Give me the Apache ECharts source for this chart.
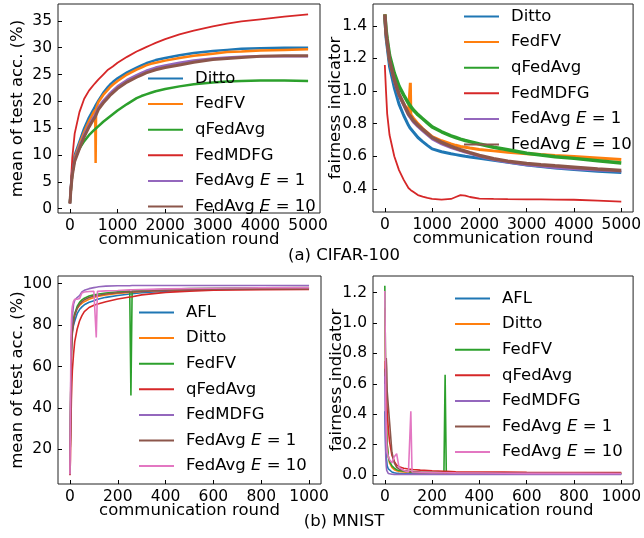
<!DOCTYPE html>
<html>
<head>
<meta charset="utf-8">
<script src="https://cdn.jsdelivr.net/npm/echarts@6/dist/echarts.min.js"></script>
<style>
* { margin: 0; padding: 0; }
body { background: #fff; }
#chart { width: 644px; height: 538px; }
</style>
</head>
<body>
<div id="chart"></div>
<script>
// ---- CIFAR-100 (5000 rounds) ----
const cifarRounds = [0, 25, 50, 100, 200, 300, 400, 500, 530, 540, 550, 600, 700, 800, 820, 830, 840, 900, 1000,
  1200, 1400, 1500, 1600, 1700, 1800, 2000, 2300, 2600, 3000, 3300, 3600, 4000, 4500, 5000]
const cifarNames = ['Ditto', 'FedFV', 'qFedAvg', 'FedMDFG', 'FedAvg E=1', 'FedAvg E=10']
const cifarColors = ['#1f77b4', '#ff7f0e', '#2ca02c', '#d62728', '#9467bd', '#8c564b']

// mean of test acc (%)
const cifarAccDitto = [1.0, 4.5, 7.0, 10.0, 12.5, 15.0, 17.0, 18.6, 19.1, 19.3, 19.4, 20.2, 21.6, 22.7, 22.9, 23.0, 23.1, 23.6, 24.3, 25.4, 26.3, 26.7, 27.1, 27.4, 27.7, 28.1, 28.6, 29.0, 29.4, 29.6, 29.8, 29.9, 30.0, 30.0]
const cifarAccFedFV = [1.0, 4.0, 6.5, 9.5, 12.0, 14.3, 16.3, 18.0, 18.4, 8.5, 18.7, 19.9, 21.2, 22.2, 22.4, 22.5, 22.6, 23.1, 23.8, 25.0, 25.9, 26.3, 26.7, 27.0, 27.2, 27.6, 28.1, 28.5, 28.9, 29.2, 29.3, 29.5, 29.6, 29.7]
const cifarAccQFedAvg = [1.0, 4.0, 6.5, 9.2, 11.2, 12.6, 13.7, 14.6, 14.8, 14.9, 15.0, 15.4, 16.2, 16.9, 17.0, 17.1, 17.2, 17.6, 18.3, 19.5, 20.6, 21.0, 21.3, 21.6, 21.9, 22.3, 22.8, 23.2, 23.5, 23.7, 23.8, 23.9, 23.9, 23.8]
const cifarAccFedMDFG = [1.0, 5.5, 9.5, 14.0, 18.0, 20.5, 22.0, 23.1, 23.4, 23.5, 23.6, 24.1, 25.0, 25.9, 26.0, 26.1, 26.2, 26.5, 27.2, 28.3, 29.3, 29.7, 30.1, 30.5, 30.9, 31.6, 32.5, 33.2, 34.0, 34.5, 34.9, 35.3, 35.8, 36.2]
const cifarAccE1 = [1.0, 4.2, 6.5, 9.2, 11.6, 13.8, 15.6, 17.1, 17.5, 17.6, 17.7, 18.9, 20.1, 21.1, 21.3, 21.4, 21.5, 22.0, 22.8, 24.0, 24.9, 25.3, 25.7, 26.0, 26.3, 26.7, 27.2, 27.6, 28.0, 28.2, 28.3, 28.4, 28.4, 28.4]
const cifarAccE10 = [1.0, 4.0, 6.2, 8.8, 11.2, 13.4, 15.2, 16.7, 17.1, 17.2, 17.3, 18.5, 19.7, 20.7, 20.9, 21.0, 21.1, 21.6, 22.4, 23.6, 24.5, 24.9, 25.3, 25.6, 25.9, 26.3, 26.8, 27.3, 27.8, 28.0, 28.2, 28.4, 28.5, 28.5]

// fairness indicator
const cifarFairDitto = [1.45, 1.33, 1.27, 1.15, 1.02, 0.92, 0.85, 0.79, 0.775, 0.77, 0.765, 0.75, 0.715, 0.69, 0.685, 0.683, 0.68, 0.667, 0.645, 0.628, 0.615, 0.61, 0.605, 0.60, 0.596, 0.588, 0.575, 0.563, 0.547, 0.537, 0.528, 0.518, 0.508, 0.50]
const cifarFairFedFV = [1.47, 1.36, 1.30, 1.19, 1.07, 0.98, 0.92, 0.87, 0.86, 1.05, 0.855, 0.835, 0.80, 0.77, 0.765, 0.78, 0.758, 0.745, 0.72, 0.695, 0.675, 0.667, 0.66, 0.655, 0.65, 0.642, 0.633, 0.625, 0.616, 0.61, 0.605, 0.599, 0.59, 0.58]
const cifarFairQFedAvg = [1.47, 1.38, 1.32, 1.22, 1.11, 1.03, 0.975, 0.925, 0.912, 0.908, 0.905, 0.885, 0.855, 0.83, 0.825, 0.823, 0.82, 0.805, 0.78, 0.75, 0.725, 0.715, 0.705, 0.697, 0.69, 0.675, 0.655, 0.64, 0.618, 0.607, 0.597, 0.587, 0.573, 0.558]
const cifarFairFedMDFG = [1.16, 1.0, 0.86, 0.73, 0.60, 0.515, 0.455, 0.405, 0.397, 0.394, 0.392, 0.382, 0.362, 0.352, 0.35, 0.349, 0.348, 0.344, 0.339, 0.334, 0.338, 0.35, 0.362, 0.358, 0.35, 0.34, 0.338, 0.337, 0.336, 0.335, 0.334, 0.333, 0.328, 0.322]
const cifarFairE1 = [1.46, 1.35, 1.29, 1.18, 1.06, 0.97, 0.91, 0.85, 0.84, 0.835, 0.83, 0.81, 0.78, 0.755, 0.75, 0.748, 0.745, 0.73, 0.705, 0.675, 0.652, 0.642, 0.633, 0.624, 0.616, 0.598, 0.578, 0.563, 0.547, 0.538, 0.53, 0.522, 0.514, 0.508]
const cifarFairE10 = [1.47, 1.36, 1.30, 1.19, 1.07, 0.98, 0.92, 0.86, 0.85, 0.845, 0.84, 0.82, 0.79, 0.765, 0.76, 0.758, 0.755, 0.74, 0.715, 0.685, 0.66, 0.65, 0.64, 0.631, 0.622, 0.605, 0.585, 0.57, 0.556, 0.548, 0.541, 0.533, 0.522, 0.512]

// ---- MNIST (1000 rounds) ----
const mnistRounds = [0, 2, 4, 6, 8, 10, 15, 20, 30, 40, 50, 60, 80, 100, 105, 110, 115, 120, 150, 200, 250, 255, 260, 300, 400, 500, 600, 800, 1000]
const mnistNames = ['AFL', 'Ditto', 'FedFV', 'qFedAvg', 'FedMDFG', 'FedAvg E=1', 'FedAvg E=10']
const mnistColors = ['#1f77b4', '#ff7f0e', '#2ca02c', '#d62728', '#9467bd', '#8c564b', '#e377c2']

const mnistAccAFL = [8, 30, 55, 68, 74, 77, 80, 82, 85.5, 87.5, 88.8, 89.8, 91.0, 91.8, 92.0, 92.2, 92.4, 92.6, 93.4, 94.3, 95.0, 95.0, 95.1, 95.6, 96.4, 96.9, 97.2, 97.5, 97.6]
const mnistAccDitto = [8, 32, 58, 71, 77, 80, 83.5, 85.5, 88, 89.5, 90.5, 91.3, 92.5, 93.3, 93.5, 93.7, 93.8, 94.0, 94.6, 95.3, 95.8, 95.8, 95.8, 96.2, 96.8, 97.2, 97.4, 97.6, 97.8]
const mnistAccFedFV = [8, 30, 56, 70, 76, 79, 83, 85.5, 89, 91, 92.2, 93, 94, 94.6, 94.7, 94.8, 94.9, 95.0, 95.5, 96.1, 96.5, 46.0, 96.6, 96.8, 97.3, 97.6, 97.8, 98.0, 98.1]
const mnistAccQFedAvg = [7.5, 15, 32, 44, 52, 58, 66, 72, 78, 82, 84.6, 86.5, 88.5, 89.6, 89.8, 90.0, 90.2, 90.3, 91.3, 92.6, 93.6, 93.6, 93.7, 94.6, 95.8, 96.4, 96.8, 97.1, 97.2]
const mnistAccFedMDFG = [8, 35, 60, 72, 80, 84, 90, 92, 93.3, 94.2, 96, 96.8, 97.6, 98.1, 98.2, 98.3, 98.4, 98.5, 98.8, 99.0, 99.0, 99.1, 99.1, 99.1, 99.1, 99.1, 99.1, 99.1, 99.1]
const mnistAccE1 = [8, 28, 50, 64, 72, 76, 81, 84.5, 88, 90, 91.3, 92.2, 93.3, 94.0, 94.1, 94.2, 94.3, 94.4, 95.0, 95.6, 96.0, 96.0, 96.0, 96.3, 96.8, 97.1, 97.3, 97.4, 97.5]
const mnistAccE10 = [8, 40, 70, 82, 87, 89, 91.5, 92.5, 92.5, 92.8, 95.5, 96, 96.2, 96.3, 96.3, 74, 96.3, 96.4, 96.5, 96.7, 97, 97, 97, 97.2, 97.5, 97.7, 97.8, 98.0, 98.1]

const mnistFairAFL = [0.42, 0.28, 0.16, 0.12, 0.09, 0.06, 0.04, 0.03, 0.02, 0.015, 0.012, 0.011, 0.01, 0.009, 0.009, 0.009, 0.009, 0.009, 0.008, 0.008, 0.007, 0.007, 0.007, 0.007, 0.006, 0.006, 0.006, 0.006, 0.006]
const mnistFairDitto = [1.1, 0.8, 0.55, 0.38, 0.28, 0.2, 0.12, 0.08, 0.05, 0.035, 0.028, 0.024, 0.02, 0.018, 0.018, 0.018, 0.018, 0.017, 0.016, 0.015, 0.014, 0.014, 0.014, 0.013, 0.013, 0.012, 0.012, 0.012, 0.012]
const mnistFairFedFV = [1.245, 0.9, 0.6, 0.4, 0.28, 0.2, 0.12, 0.09, 0.06, 0.045, 0.035, 0.03, 0.025, 0.022, 0.022, 0.021, 0.021, 0.021, 0.018, 0.016, 0.015, 0.66, 0.015, 0.014, 0.013, 0.012, 0.011, 0.01, 0.01]
const mnistFairQFedAvg = [0.6, 0.75, 0.72, 0.6, 0.5, 0.42, 0.3, 0.22, 0.13, 0.09, 0.065, 0.055, 0.045, 0.04, 0.039, 0.038, 0.037, 0.036, 0.032, 0.028, 0.025, 0.025, 0.025, 0.022, 0.02, 0.019, 0.018, 0.017, 0.016]
const mnistFairFedMDFG = [0.68, 0.3, 0.12, 0.06, 0.03, 0.02, 0.01, 0.006, 0.005, 0.004, 0.004, 0.004, 0.004, 0.004, 0.004, 0.004, 0.004, 0.004, 0.004, 0.004, 0.004, 0.004, 0.004, 0.004, 0.004, 0.004, 0.004, 0.004, 0.004]
const mnistFairE1 = [0.7, 0.65, 0.7, 0.77, 0.7, 0.55, 0.45, 0.35, 0.15, 0.08, 0.05, 0.04, 0.03, 0.025, 0.024, 0.024, 0.023, 0.023, 0.02, 0.018, 0.016, 0.016, 0.016, 0.015, 0.014, 0.013, 0.013, 0.012, 0.012]
const mnistFairE10 = [1.21, 0.9, 0.5, 0.3, 0.2, 0.15, 0.12, 0.1, 0.08, 0.12, 0.14, 0.05, 0.03, 0.02, 0.02, 0.42, 0.02, 0.02, 0.018, 0.016, 0.015, 0.015, 0.015, 0.014, 0.013, 0.012, 0.011, 0.011, 0.01]

// tick values
const cifarXTicks = [0, 1000, 2000, 3000, 4000, 5000]
const mnistXTicks = [0, 200, 400, 600, 800, 1000]
const cifarAccTicks = [0, 5, 10, 15, 20, 25, 30, 35]
const cifarFairTicks = [0.4, 0.6, 0.8, 1.0, 1.2, 1.4]
const mnistAccTicks = [20, 40, 60, 80, 100]
const mnistFairTicks = [0.0, 0.2, 0.4, 0.6, 0.8, 1.0, 1.2]

const FONT = 'DejaVu Sans'
const TICK_SIZE = 15.5
const NAME_SIZE = 16.5

// name suffix keeps MNIST legend colours apart from CIFAR ones
function legendLabel(name) {
    const n = name.split('#')[0]
    const m = n.match(/^FedAvg E=(\d+)$/)
    if (m) return '{r|FedAvg }{i|E}{r| = ' + m[1] + '}'
    return '{r|' + n + '}'
}

function legendAt(left, top, names) {
    return {
        left: left, top: top, orient: 'vertical', padding: 0,
        itemGap: 8.6, itemWidth: 35, itemHeight: 2,
        icon: 'rect',
        selectedMode: false,
        data: names,
        formatter: legendLabel,
        textStyle: {
            padding: [0, 0, 0, 7],
            rich: {
                r: { fontSize: NAME_SIZE, fontFamily: FONT, color: '#000', lineHeight: 16 },
                i: { fontSize: NAME_SIZE, fontFamily: FONT, color: '#000', lineHeight: 16, fontStyle: 'italic' }
            }
        }
    }
}

function xAxisAt(idx, min, max, ticks) {
    return {
        type: 'value', gridIndex: idx, min: min, max: max,
        name: 'communication round', nameLocation: 'middle', nameGap: 18, nameMoveOverlap: false,
        nameTextStyle: { fontSize: NAME_SIZE, fontFamily: FONT, color: '#000' },
        axisLine: { show: false, onZero: false },
        splitLine: { show: false },
        axisTick: { inside: true, length: 4, customValues: ticks, lineStyle: { color: '#000' } },
        axisLabel: {
            customValues: ticks, margin: 5, fontSize: TICK_SIZE, fontFamily: FONT, color: '#000',
            formatter: v => String(v)
        }
    }
}

function yAxisAt(idx, min, max, ticks, name, gap, digits) {
    return {
        type: 'value', gridIndex: idx, min: min, max: max,
        name: name, nameLocation: 'middle', nameGap: gap, nameRotate: 90, nameMoveOverlap: false,
        nameTextStyle: { fontSize: NAME_SIZE, fontFamily: FONT, color: '#000' },
        axisLine: { show: false, onZero: false },
        splitLine: { show: false },
        axisTick: { inside: true, length: 4, customValues: ticks, lineStyle: { color: '#000' } },
        axisLabel: {
            customValues: ticks, margin: 6, fontSize: TICK_SIZE, fontFamily: FONT, color: '#000',
            formatter: v => v.toFixed(digits)
        }
    }
}

function line(name, idx, xs, ys, color, width) {
    return {
        type: 'line', name: name, xAxisIndex: idx, yAxisIndex: idx,
        data: xs.map((x, i) => [x, ys[i]]),
        symbol: 'none', showSymbol: false, silent: true, animation: false,
        lineStyle: { color: color, width: width },
        itemStyle: { color: color }
    }
}

const cifarAcc = [cifarAccDitto, cifarAccFedFV, cifarAccQFedAvg, cifarAccFedMDFG, cifarAccE1, cifarAccE10]
const cifarFair = [cifarFairDitto, cifarFairFedFV, cifarFairQFedAvg, cifarFairFedMDFG, cifarFairE1, cifarFairE10]
const mnistAcc = [mnistAccAFL, mnistAccDitto, mnistAccFedFV, mnistAccQFedAvg, mnistAccFedMDFG, mnistAccE1, mnistAccE10]
const mnistFair = [mnistFairAFL, mnistFairDitto, mnistFairFedFV, mnistFairQFedAvg, mnistFairFedMDFG, mnistFairE1, mnistFairE10]
const cifarAccW = [2.5, 2.5, 2.5, 1.8, 2.5, 3]
const cifarFairW = [3, 3, 3.5, 1.8, 2.5, 3.5]

const series = []
cifarNames.forEach((n, i) => series.push(line(n, 0, cifarRounds, cifarAcc[i], cifarColors[i], cifarAccW[i])))
cifarNames.forEach((n, i) => series.push(line(n, 1, cifarRounds, cifarFair[i], cifarColors[i], cifarFairW[i])))
const mnistKeys = mnistNames.map(n => n + '#m')
mnistKeys.forEach((n, i) => series.push(line(n, 2, mnistRounds, mnistAcc[i], mnistColors[i], 1.6)))
mnistKeys.forEach((n, i) => series.push(line(n, 3, mnistRounds, mnistFair[i], mnistColors[i], 1.6)))

const gridStyle = { show: true, borderColor: '#222', borderWidth: 1, backgroundColor: 'transparent' }

const chart = echarts.init(document.getElementById('chart'), null, { renderer: 'canvas' })
chart.setOption({
    animation: false,
    backgroundColor: '#fff',
    grid: [
        Object.assign({ left: 58, top: 4, width: 262, height: 209 }, gridStyle),
        Object.assign({ left: 373, top: 4, width: 262, height: 208 }, gridStyle),
        Object.assign({ left: 58, top: 276, width: 263, height: 208 }, gridStyle),
        Object.assign({ left: 373, top: 276, width: 262, height: 208 }, gridStyle)
    ],
    xAxis: [
        xAxisAt(0, -250, 5250, cifarXTicks),
        xAxisAt(1, -250, 5250, cifarXTicks),
        xAxisAt(2, -50, 1050, mnistXTicks),
        xAxisAt(3, -50, 1050, mnistXTicks)
    ],
    yAxis: [
        yAxisAt(0, -0.8, 38.15, cifarAccTicks, 'mean of test acc. (%)', 32, 0),
        yAxisAt(1, 0.258, 1.534, cifarFairTicks, 'fairness indicator', 29, 1),
        yAxisAt(2, 3.3, 103.7, mnistAccTicks, 'mean of test acc. (%)', 32, 0),
        yAxisAt(3, -0.059, 1.309, mnistFairTicks, 'fairness indicator', 28, 1)
    ],
    legend: [
        legendAt(148, 70, cifarNames),
        legendAt(464, 8, cifarNames),
        legendAt(139, 304, mnistKeys),
        legendAt(455, 290, mnistKeys)
    ],
    graphic: [
        { type: 'text', x: 344, y: 256, style: { text: '(a) CIFAR-100', fontSize: NAME_SIZE, fontFamily: FONT, fill: '#000', align: 'center', verticalAlign: 'middle' } },
        { type: 'text', x: 344, y: 522, style: { text: '(b) MNIST', fontSize: NAME_SIZE, fontFamily: FONT, fill: '#000', align: 'center', verticalAlign: 'middle' } }
    ],
    series: series
})
</script>
</body>
</html>
